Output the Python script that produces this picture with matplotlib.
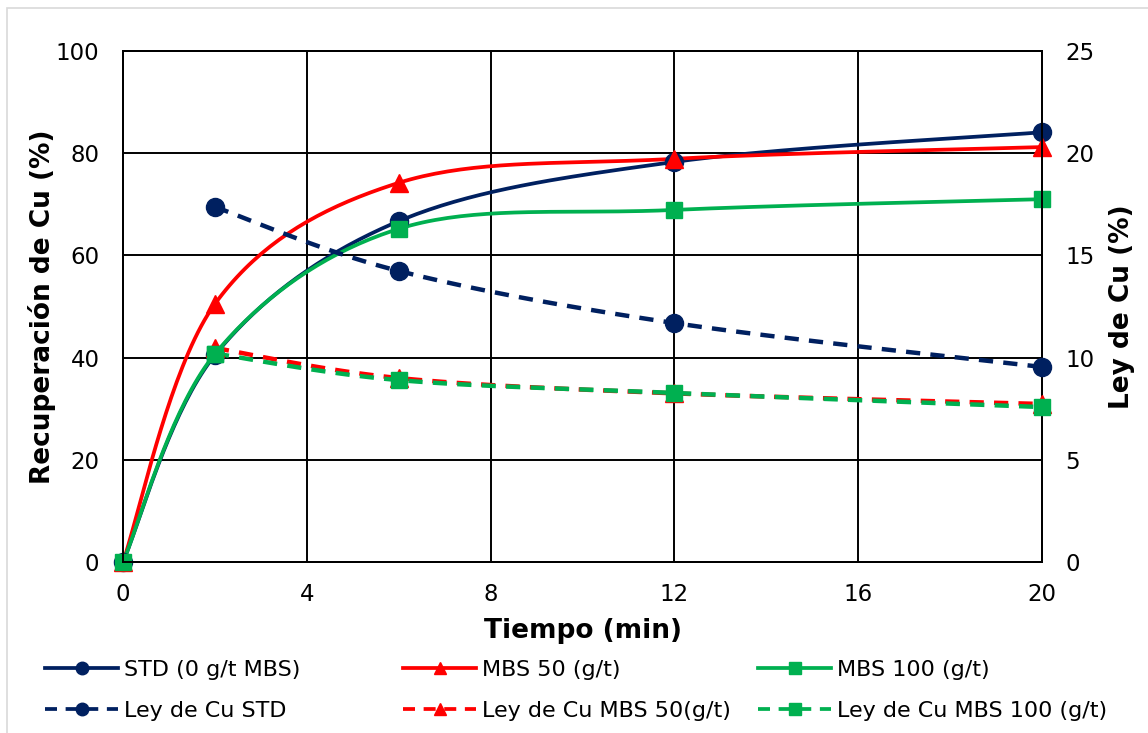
import numpy as np
import matplotlib
matplotlib.use("Agg")
import matplotlib.pyplot as plt
from matplotlib.lines import Line2D
from matplotlib.patches import Rectangle

# ---- data ----
t_rec = [0, 2, 6, 12, 20]
rec_std = [0, 40.5, 66.7, 78.3, 84.1]
rec_mbs50 = [0, 50.5, 74.2, 78.9, 81.2]
rec_mbs100 = [0, 40.7, 65.2, 68.9, 71.0]

t_ley = [2, 6, 12, 20]
ley_std = [17.37, 14.24, 11.69, 9.54]
ley_mbs50 = [10.47, 9.0, 8.25, 7.73]
ley_mbs100 = [10.2, 8.9, 8.27, 7.58]

x_ticks = [0, 4, 8, 12, 16, 20]
y_left_ticks = [0, 20, 40, 60, 80, 100]
y_right_ticks = [0, 5, 10, 15, 20, 25]

NAVY = "#002060"
RED = "#FF0000"
GREEN = "#00B050"


def smooth(x, y, xs, ys, n=40):
    """Excel-like Bezier smoothing (Catmull-Rom, tension 1/6) in normalized space."""
    x = np.asarray(x, float) / xs
    y = np.asarray(y, float) / ys
    P = np.column_stack([x, y])
    m = len(P)
    out = []
    for i in range(m - 1):
        p0 = P[i - 1] if i > 0 else P[i]
        p1 = P[i]
        p2 = P[i + 1]
        p3 = P[i + 2] if i + 2 < m else P[i + 1]
        c1 = p1 + (p2 - p0) / 6.0
        c2 = p2 - (p3 - p1) / 6.0
        tt = np.linspace(0, 1, n)[:, None]
        seg = ((1 - tt) ** 3) * p1 + 3 * ((1 - tt) ** 2) * tt * c1 + 3 * (1 - tt) * tt ** 2 * c2 + tt ** 3 * p2
        out.append(seg if i == 0 else seg[1:])
    out = np.vstack(out)
    return out[:, 0] * xs, out[:, 1] * ys


W, H = 1148, 733
fig = plt.figure(figsize=(W / 100, H / 100), dpi=100)
ax = fig.add_axes([123 / W, 1 - 562 / H, (1042 - 123) / W, (562 - 51) / H])
ax2 = ax.twinx()

lw = 2.7
ms = 13
DASH = (0, (3.2, 2.3))

# recovery curves (left axis)
for xv, yv, c, mk, msz in [(t_rec, rec_std, NAVY, "o", ms),
                            (t_rec, rec_mbs50, RED, "^", ms),
                            (t_rec, rec_mbs100, GREEN, "s", ms - 1)]:
    sx, sy = smooth(xv, yv, 20, 100)
    ax.plot(sx, sy, color=c, lw=lw, zorder=3)
    ax.plot(xv, yv, ls="none", marker=mk, color=c, ms=msz, zorder=4, clip_on=False)

# ley curves (right axis)
for xv, yv, c, mk, msz in [(t_ley, ley_std, NAVY, "o", ms),
                            (t_ley, ley_mbs50, RED, "^", ms),
                            (t_ley, ley_mbs100, GREEN, "s", ms - 1)]:
    sx, sy = smooth(xv, yv, 20, 25)
    ax2.plot(sx, sy, color=c, lw=lw + 0.5, ls=DASH, zorder=3)
    ax2.plot(xv, yv, ls="none", marker=mk, color=c, ms=msz, zorder=4, clip_on=False)

ax.set_xlim(0, 20)
ax.set_ylim(0, 100)
ax2.set_ylim(0, 25)
ax.set_xticks(x_ticks)
ax.set_yticks(y_left_ticks)
ax2.set_yticks(y_right_ticks)

ax.grid(True, color="black", lw=1.4)
ax.set_axisbelow(True)
for a in (ax, ax2):
    for s in a.spines.values():
        s.set_color("black")
        s.set_linewidth(1.4)
    a.tick_params(length=0, labelsize=16.5, colors="black")
ax.tick_params(axis="x", pad=15)
ax.tick_params(axis="y", pad=17)
ax2.tick_params(axis="y", pad=17)

ax.set_xlabel("Tiempo (min)", fontsize=19, fontweight="bold", labelpad=9)
ax.set_ylabel("Recuperación de Cu (%)", fontsize=19, fontweight="bold", labelpad=0)
ax2.set_ylabel("Ley de Cu (%)", fontsize=19, fontweight="bold", labelpad=10)

legend_groups = [
    ([Line2D([], [], color=NAVY, lw=lw, marker="o", ms=9),
      Line2D([], [], color=NAVY, lw=lw, ls=DASH, marker="o", ms=9)],
     ["STD (0 g/t MBS)", "Ley de Cu STD"], 45),
    ([Line2D([], [], color=RED, lw=lw, marker="^", ms=9),
      Line2D([], [], color=RED, lw=lw, ls=DASH, marker="^", ms=9)],
     ["MBS 50 (g/t)", "Ley de Cu MBS 50(g/t)"], 403),
    ([Line2D([], [], color=GREEN, lw=lw, marker="s", ms=8),
      Line2D([], [], color=GREEN, lw=lw, ls=DASH, marker="s", ms=8)],
     ["MBS 100 (g/t)", "Ley de Cu MBS 100 (g/t)"], 758),
]
for hs, ls_, x0 in legend_groups:
    leg = fig.legend(hs, ls_, loc="center left", bbox_to_anchor=(x0 / W, 1 - 690.5 / H),
                     frameon=False, fontsize=16, handlelength=3.3, handletextpad=0.25,
                     labelspacing=0.95, borderpad=0, borderaxespad=0)

fig.add_artist(Rectangle((7 / W, -0.01), 1.2, 1 - 8 / H + 0.01, transform=fig.transFigure,
                         fill=False, edgecolor="#D9D9D9", lw=1.2))

fig.savefig("out.png", dpi=100)
